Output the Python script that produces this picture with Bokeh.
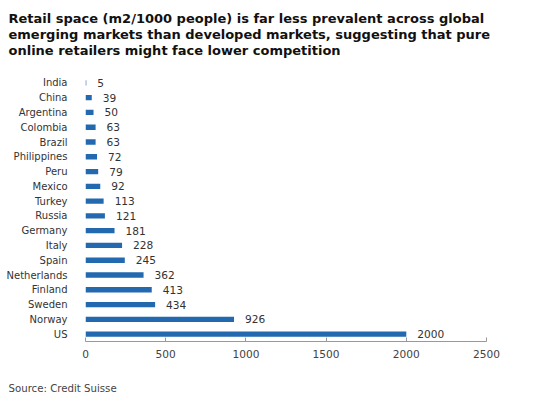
from bokeh.plotting import figure
from bokeh.models import ColumnDataSource, Range1d, FactorRange, Title, FixedTicker
from bokeh.core.properties import value
from bokeh.embed import file_html
from bokeh.resources import INLINE

countries = ["India", "China", "Argentina", "Colombia", "Brazil", "Philippines", "Peru",
             "Mexico", "Turkey", "Russia", "Germany", "Italy", "Spain", "Netherlands",
             "Finland", "Sweden", "Norway", "US"]
retail_space = [5, 39, 50, 63, 63, 72, 79, 92, 113, 121, 181, 228, 245, 362, 413, 434, 926, 2000]
x_ticks = [0, 500, 1000, 1500, 2000, 2500]

title_lines = [
    "Retail space (m2/1000 people) is far less prevalent across global",
    "emerging markets than developed markets, suggesting that pure",
    "online retailers might face lower competition",
]
source_text = "Source: Credit Suisse"

FONT = "DejaVu Sans"

src = ColumnDataSource(dict(country=countries, val=retail_space,
                            lbl=[str(v) for v in retail_space]))

p = figure(frame_width=401, frame_height=266, output_backend="svg", toolbar_location=None,
           y_range=FactorRange(factors=list(reversed(countries)), range_padding=0),
           x_range=Range1d(0, 2500),
           min_border_left=0, min_border_right=45, min_border_top=0, min_border_bottom=0)
p.title = None

# invisible spacer at the far left
p.add_layout(Title(text=" ", text_font=FONT, text_font_size="1px", standoff=0), "left")

# invisible spacer between the plot frame and the headline
p.add_layout(Title(text=" ", text_font=FONT, text_font_size="1px", standoff=2), "above")
p.add_layout(Title(text="\n".join(title_lines), text_font=FONT, text_font_size="13px",
                   text_font_style="bold", text_color="#111111", align="left",
                   offset=-77, standoff=21, text_line_height=1.08, vertical_align="top"),
             "above")

# invisible spacer between the x axis and the source note
p.add_layout(Title(text=" ", text_font=FONT, text_font_size="1px", standoff=16), "below")
p.add_layout(Title(text=source_text, text_font=FONT, text_font_size="10.2px",
                   text_font_style="normal", text_color="#444444", align="left",
                   offset=-77, standoff=2, vertical_align="bottom"), "below")

p.hbar(y="country", right="val", left=0, height=0.36, source=src,
       fill_color="#2269b0", line_color=None)
p.text(x="val", y="country", text="lbl", source=src, x_offset=11,
       text_align="left", text_baseline="middle", text_font=value(FONT),
       text_font_size="10.6px", text_color="#333333")

p.xgrid.visible = False
p.ygrid.visible = False
p.outline_line_color = None

p.xaxis.ticker = FixedTicker(ticks=x_ticks)
p.xaxis.axis_line_color = "#999999"
p.xaxis.major_tick_line_color = "#999999"
p.xaxis.major_tick_in = 4
p.xaxis.major_tick_out = 0
p.xaxis.minor_tick_line_color = None
p.xaxis.major_label_text_font = FONT
p.xaxis.major_label_text_font_size = "10.6px"
p.xaxis.major_label_text_color = "#444444"
p.xaxis.major_label_standoff = 8

p.yaxis.axis_line_color = None
p.yaxis.major_tick_line_color = None
p.yaxis.minor_tick_line_color = None
p.yaxis.major_label_text_font = FONT
p.yaxis.major_label_text_font_size = "10px"
p.yaxis.major_label_text_color = "#333333"
p.yaxis.major_label_standoff = 12

p.background_fill_color = "white"
p.border_fill_color = "white"

open("out.html", "w").write(file_html(p, INLINE))
